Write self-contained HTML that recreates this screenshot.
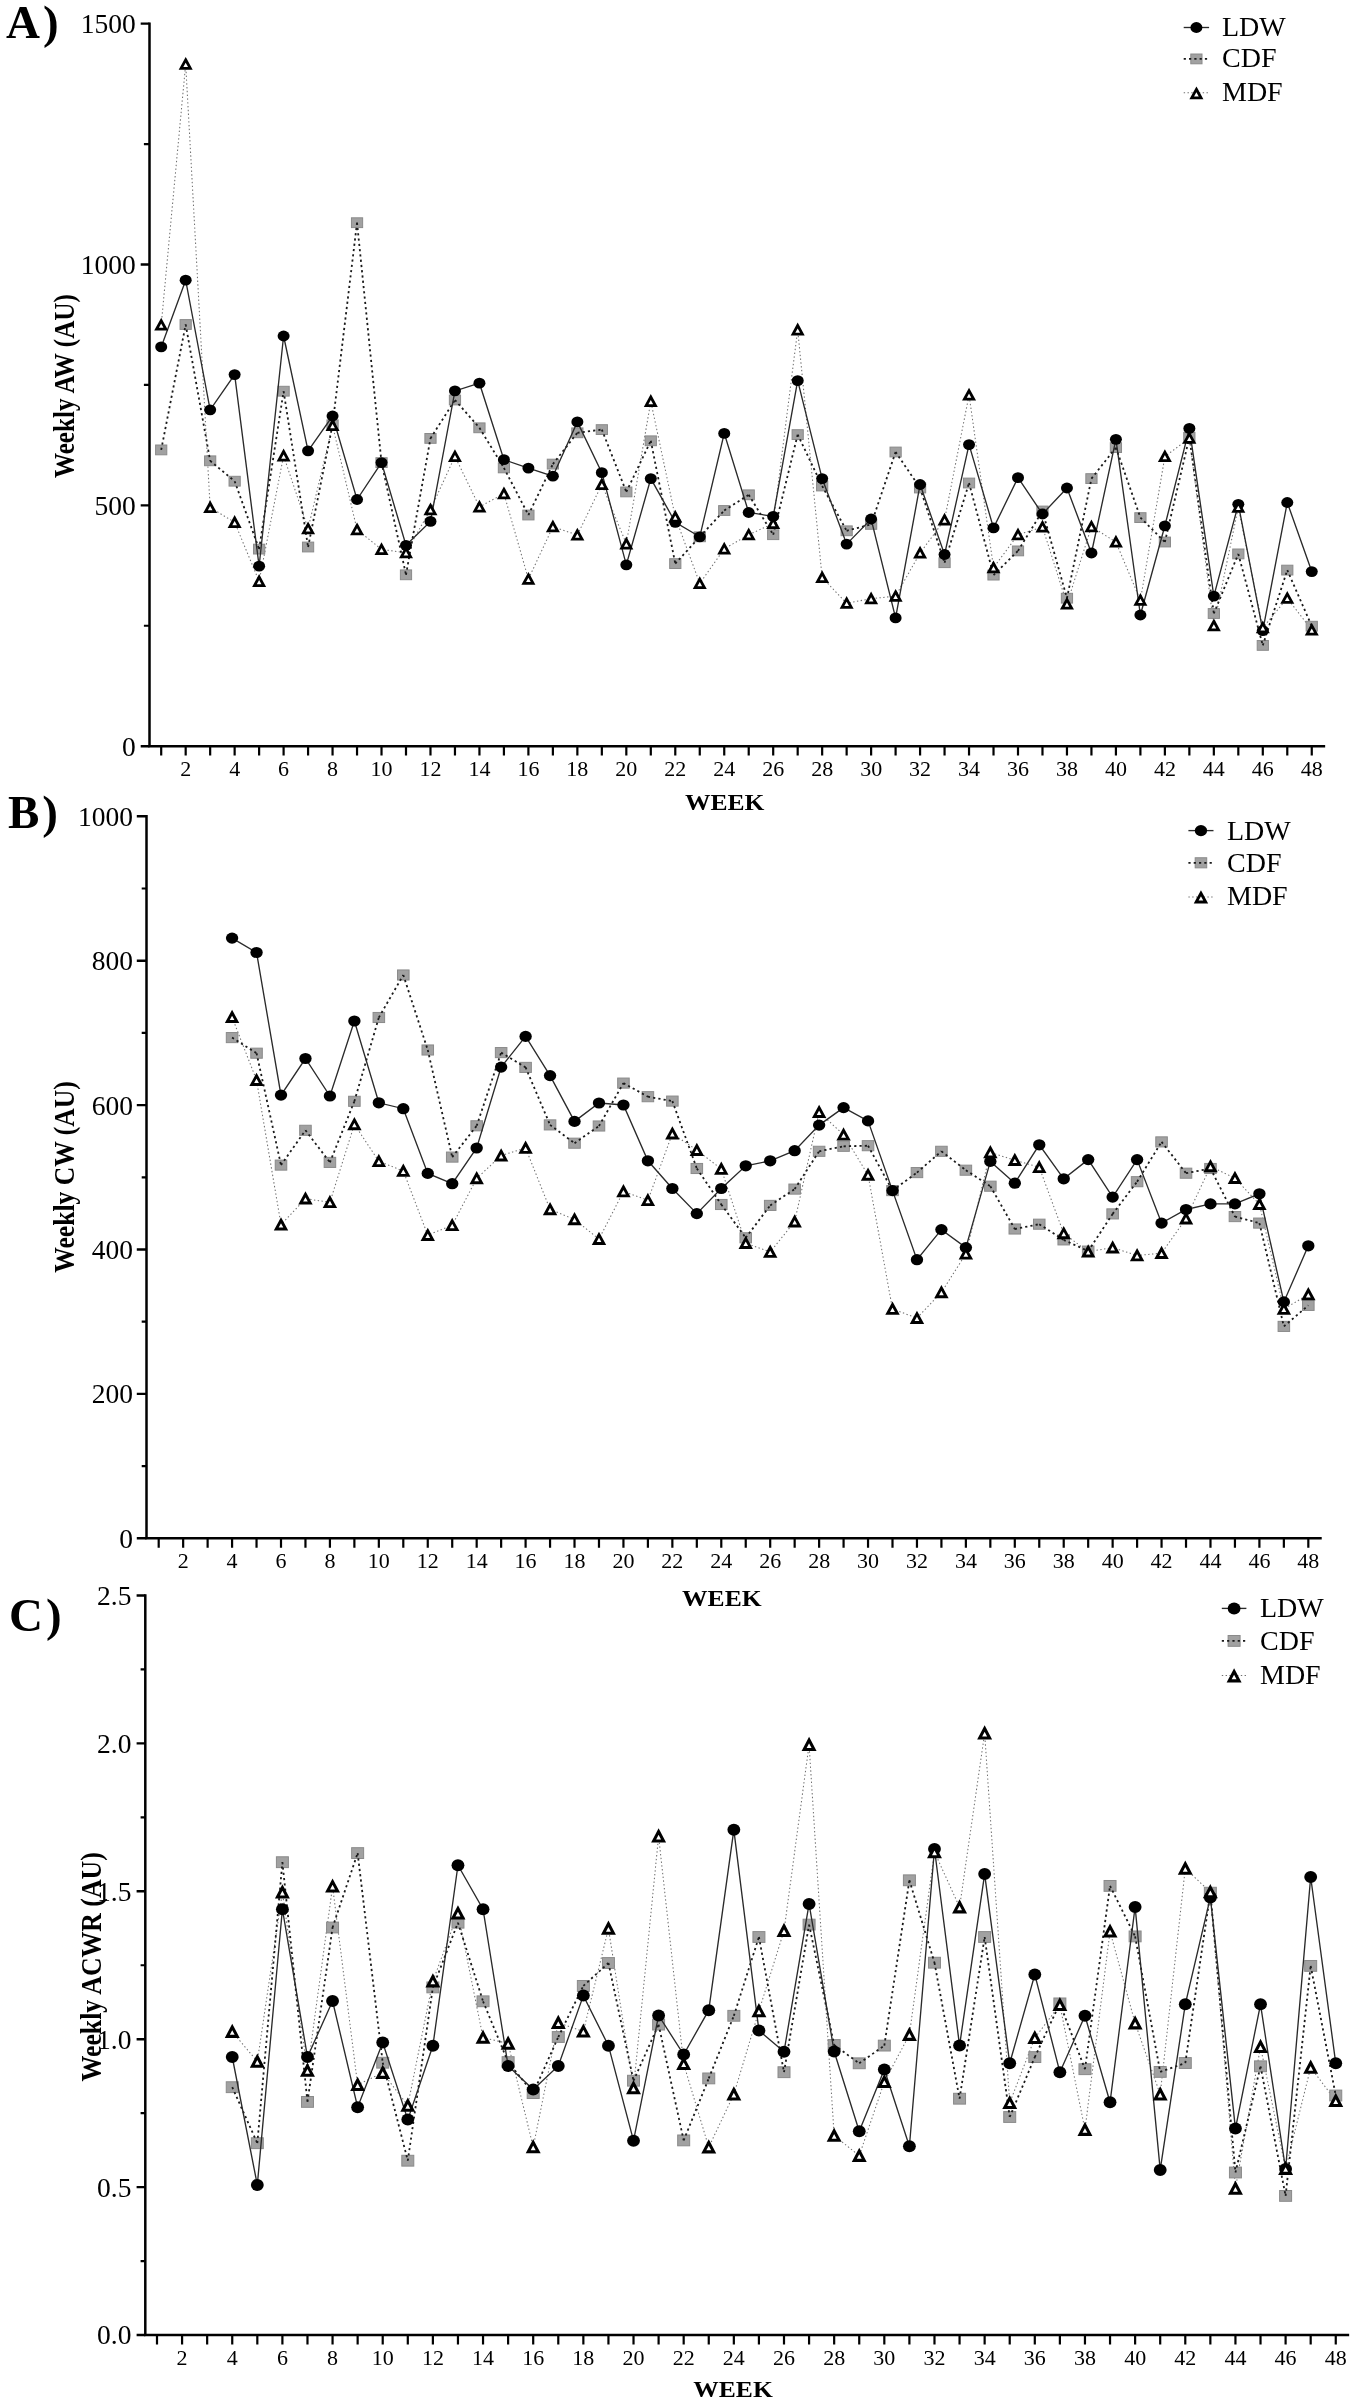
<!DOCTYPE html>
<html><head><meta charset="utf-8"><title>Weekly workload charts</title>
<style>
html,body{margin:0;padding:0;background:#fff;}
body{width:1355px;height:2404px;overflow:hidden;font-family:"Liberation Serif",serif;}
svg{display:block;will-change:transform;filter:blur(0.55px);}
</style></head><body>
<svg width="1355" height="2404" viewBox="0 0 1355 2404">
<rect width="1355" height="2404" fill="#fff"/>
<path d="M149.5 22.4V746.2H1325.16" stroke="#000" stroke-width="2.5" fill="none" stroke-linejoin="miter"/>
<path d="M140.7 746.2H149.5M140.7 505.33H149.5M140.7 264.46H149.5M140.7 23.59H149.5" stroke="#000" stroke-width="2.4" fill="none"/>
<path d="M143.9 625.77H149.5M143.9 384.9H149.5M143.9 144.03H149.5" stroke="#000" stroke-width="2.2" fill="none"/>
<text transform="translate(135.8 755.6) scale(1.0 1)" text-anchor="end" font-size="27.5" font-family="Liberation Serif, serif">0</text>
<text transform="translate(135.8 514.73) scale(1.0 1)" text-anchor="end" font-size="27.5" font-family="Liberation Serif, serif">500</text>
<text transform="translate(135.8 273.86) scale(1.0 1)" text-anchor="end" font-size="27.5" font-family="Liberation Serif, serif">1000</text>
<text transform="translate(135.8 32.99) scale(1.0 1)" text-anchor="end" font-size="27.5" font-family="Liberation Serif, serif">1500</text>
<path d="M161.2 746.2V755.6M185.68 746.2V755.6M210.16 746.2V755.6M234.64 746.2V755.6M259.12 746.2V755.6M283.6 746.2V755.6M308.08 746.2V755.6M332.56 746.2V755.6M357.04 746.2V755.6M381.52 746.2V755.6M406 746.2V755.6M430.48 746.2V755.6M454.96 746.2V755.6M479.44 746.2V755.6M503.92 746.2V755.6M528.4 746.2V755.6M552.88 746.2V755.6M577.36 746.2V755.6M601.84 746.2V755.6M626.32 746.2V755.6M650.8 746.2V755.6M675.28 746.2V755.6M699.76 746.2V755.6M724.24 746.2V755.6M748.72 746.2V755.6M773.2 746.2V755.6M797.68 746.2V755.6M822.16 746.2V755.6M846.64 746.2V755.6M871.12 746.2V755.6M895.6 746.2V755.6M920.08 746.2V755.6M944.56 746.2V755.6M969.04 746.2V755.6M993.52 746.2V755.6M1018 746.2V755.6M1042.48 746.2V755.6M1066.96 746.2V755.6M1091.44 746.2V755.6M1115.92 746.2V755.6M1140.4 746.2V755.6M1164.88 746.2V755.6M1189.36 746.2V755.6M1213.84 746.2V755.6M1238.32 746.2V755.6M1262.8 746.2V755.6M1287.28 746.2V755.6M1311.76 746.2V755.6" stroke="#000" stroke-width="2.2" fill="none"/>
<text transform="translate(185.68 775.9) scale(1.10 1)" text-anchor="middle" font-size="20" font-family="Liberation Serif, serif">2</text>
<text transform="translate(234.64 775.9) scale(1.10 1)" text-anchor="middle" font-size="20" font-family="Liberation Serif, serif">4</text>
<text transform="translate(283.6 775.9) scale(1.10 1)" text-anchor="middle" font-size="20" font-family="Liberation Serif, serif">6</text>
<text transform="translate(332.56 775.9) scale(1.10 1)" text-anchor="middle" font-size="20" font-family="Liberation Serif, serif">8</text>
<text transform="translate(381.52 775.9) scale(1.10 1)" text-anchor="middle" font-size="20" font-family="Liberation Serif, serif">10</text>
<text transform="translate(430.48 775.9) scale(1.10 1)" text-anchor="middle" font-size="20" font-family="Liberation Serif, serif">12</text>
<text transform="translate(479.44 775.9) scale(1.10 1)" text-anchor="middle" font-size="20" font-family="Liberation Serif, serif">14</text>
<text transform="translate(528.4 775.9) scale(1.10 1)" text-anchor="middle" font-size="20" font-family="Liberation Serif, serif">16</text>
<text transform="translate(577.36 775.9) scale(1.10 1)" text-anchor="middle" font-size="20" font-family="Liberation Serif, serif">18</text>
<text transform="translate(626.32 775.9) scale(1.10 1)" text-anchor="middle" font-size="20" font-family="Liberation Serif, serif">20</text>
<text transform="translate(675.28 775.9) scale(1.10 1)" text-anchor="middle" font-size="20" font-family="Liberation Serif, serif">22</text>
<text transform="translate(724.24 775.9) scale(1.10 1)" text-anchor="middle" font-size="20" font-family="Liberation Serif, serif">24</text>
<text transform="translate(773.2 775.9) scale(1.10 1)" text-anchor="middle" font-size="20" font-family="Liberation Serif, serif">26</text>
<text transform="translate(822.16 775.9) scale(1.10 1)" text-anchor="middle" font-size="20" font-family="Liberation Serif, serif">28</text>
<text transform="translate(871.12 775.9) scale(1.10 1)" text-anchor="middle" font-size="20" font-family="Liberation Serif, serif">30</text>
<text transform="translate(920.08 775.9) scale(1.10 1)" text-anchor="middle" font-size="20" font-family="Liberation Serif, serif">32</text>
<text transform="translate(969.04 775.9) scale(1.10 1)" text-anchor="middle" font-size="20" font-family="Liberation Serif, serif">34</text>
<text transform="translate(1018 775.9) scale(1.10 1)" text-anchor="middle" font-size="20" font-family="Liberation Serif, serif">36</text>
<text transform="translate(1066.96 775.9) scale(1.10 1)" text-anchor="middle" font-size="20" font-family="Liberation Serif, serif">38</text>
<text transform="translate(1115.92 775.9) scale(1.10 1)" text-anchor="middle" font-size="20" font-family="Liberation Serif, serif">40</text>
<text transform="translate(1164.88 775.9) scale(1.10 1)" text-anchor="middle" font-size="20" font-family="Liberation Serif, serif">42</text>
<text transform="translate(1213.84 775.9) scale(1.10 1)" text-anchor="middle" font-size="20" font-family="Liberation Serif, serif">44</text>
<text transform="translate(1262.8 775.9) scale(1.10 1)" text-anchor="middle" font-size="20" font-family="Liberation Serif, serif">46</text>
<text transform="translate(1311.76 775.9) scale(1.10 1)" text-anchor="middle" font-size="20" font-family="Liberation Serif, serif">48</text>
<text x="724.7" y="810.2" text-anchor="middle" font-size="24" font-weight="bold" textLength="79.5" lengthAdjust="spacingAndGlyphs" font-family="Liberation Serif, serif">WEEK</text>
<text transform="translate(74.3 386.1) rotate(-90) scale(1 1.17)" text-anchor="middle" font-size="25.15" font-weight="bold" font-family="Liberation Serif, serif">Weekly AW (AU)</text>
<text x="6" y="37.6" font-size="47" font-weight="bold" letter-spacing="3" font-family="Liberation Serif, serif">A)</text>
<polyline points="161.2,325 185.68,64.1 210.16,507.5 234.64,522.3 259.12,581.3 283.6,455.8 308.08,528.7 332.56,425.4 357.04,529.6 381.52,549.4 406,552.7 430.48,509.6 454.96,456.4 479.44,506.9 503.92,493.6 528.4,579.1 552.88,526.7 577.36,535 601.84,484.5 626.32,543.8 650.8,401.3 675.28,517 699.76,583.4 724.24,548.9 748.72,534.7 773.2,523.5 797.68,329.8 822.16,577.5 846.64,603.2 871.12,598.7 895.6,596.1 920.08,553 944.56,519.9 969.04,395 993.52,567.7 1018,534.7 1042.48,527 1066.96,604 1091.44,526.7 1115.92,542 1140.4,600.2 1164.88,456.5 1189.36,438.2 1213.84,625.6 1238.32,507.2 1262.8,627.7 1287.28,598.2 1311.76,630" stroke="#707070" stroke-width="1.05" stroke-dasharray="1.4 2.4" fill="none"/>
<g><rect x="155.6" y="445.01" width="11.2" height="9.79" fill="#a1a1a1" stroke="#8a8a8a" stroke-width="1"/><rect x="180.08" y="319.61" width="11.2" height="9.79" fill="#a1a1a1" stroke="#8a8a8a" stroke-width="1"/><rect x="204.56" y="455.91" width="11.2" height="9.79" fill="#a1a1a1" stroke="#8a8a8a" stroke-width="1"/><rect x="229.04" y="476.31" width="11.2" height="9.79" fill="#a1a1a1" stroke="#8a8a8a" stroke-width="1"/><rect x="253.52" y="544.21" width="11.2" height="9.79" fill="#a1a1a1" stroke="#8a8a8a" stroke-width="1"/><rect x="278" y="386.31" width="11.2" height="9.79" fill="#a1a1a1" stroke="#8a8a8a" stroke-width="1"/><rect x="302.48" y="542.11" width="11.2" height="9.79" fill="#a1a1a1" stroke="#8a8a8a" stroke-width="1"/><rect x="326.96" y="419.91" width="11.2" height="9.79" fill="#a1a1a1" stroke="#8a8a8a" stroke-width="1"/><rect x="351.44" y="217.81" width="11.2" height="9.79" fill="#a1a1a1" stroke="#8a8a8a" stroke-width="1"/><rect x="375.92" y="457.71" width="11.2" height="9.79" fill="#a1a1a1" stroke="#8a8a8a" stroke-width="1"/><rect x="400.4" y="569.91" width="11.2" height="9.79" fill="#a1a1a1" stroke="#8a8a8a" stroke-width="1"/><rect x="424.88" y="433.51" width="11.2" height="9.79" fill="#a1a1a1" stroke="#8a8a8a" stroke-width="1"/><rect x="449.36" y="395.11" width="11.2" height="9.79" fill="#a1a1a1" stroke="#8a8a8a" stroke-width="1"/><rect x="473.84" y="422.91" width="11.2" height="9.79" fill="#a1a1a1" stroke="#8a8a8a" stroke-width="1"/><rect x="498.32" y="463.01" width="11.2" height="9.79" fill="#a1a1a1" stroke="#8a8a8a" stroke-width="1"/><rect x="522.8" y="510.11" width="11.2" height="9.79" fill="#a1a1a1" stroke="#8a8a8a" stroke-width="1"/><rect x="547.28" y="459.21" width="11.2" height="9.79" fill="#a1a1a1" stroke="#8a8a8a" stroke-width="1"/><rect x="571.76" y="427.91" width="11.2" height="9.79" fill="#a1a1a1" stroke="#8a8a8a" stroke-width="1"/><rect x="596.24" y="424.71" width="11.2" height="9.79" fill="#a1a1a1" stroke="#8a8a8a" stroke-width="1"/><rect x="620.72" y="487.01" width="11.2" height="9.79" fill="#a1a1a1" stroke="#8a8a8a" stroke-width="1"/><rect x="645.2" y="435.91" width="11.2" height="9.79" fill="#a1a1a1" stroke="#8a8a8a" stroke-width="1"/><rect x="669.68" y="558.71" width="11.2" height="9.79" fill="#a1a1a1" stroke="#8a8a8a" stroke-width="1"/><rect x="694.16" y="531.91" width="11.2" height="9.79" fill="#a1a1a1" stroke="#8a8a8a" stroke-width="1"/><rect x="718.64" y="505.61" width="11.2" height="9.79" fill="#a1a1a1" stroke="#8a8a8a" stroke-width="1"/><rect x="743.12" y="489.91" width="11.2" height="9.79" fill="#a1a1a1" stroke="#8a8a8a" stroke-width="1"/><rect x="767.6" y="529.81" width="11.2" height="9.79" fill="#a1a1a1" stroke="#8a8a8a" stroke-width="1"/><rect x="792.08" y="429.71" width="11.2" height="9.79" fill="#a1a1a1" stroke="#8a8a8a" stroke-width="1"/><rect x="816.56" y="481.11" width="11.2" height="9.79" fill="#a1a1a1" stroke="#8a8a8a" stroke-width="1"/><rect x="841.04" y="525.91" width="11.2" height="9.79" fill="#a1a1a1" stroke="#8a8a8a" stroke-width="1"/><rect x="865.52" y="519.51" width="11.2" height="9.79" fill="#a1a1a1" stroke="#8a8a8a" stroke-width="1"/><rect x="890" y="447.11" width="11.2" height="9.79" fill="#a1a1a1" stroke="#8a8a8a" stroke-width="1"/><rect x="914.48" y="483.11" width="11.2" height="9.79" fill="#a1a1a1" stroke="#8a8a8a" stroke-width="1"/><rect x="938.96" y="557.81" width="11.2" height="9.79" fill="#a1a1a1" stroke="#8a8a8a" stroke-width="1"/><rect x="963.44" y="478.11" width="11.2" height="9.79" fill="#a1a1a1" stroke="#8a8a8a" stroke-width="1"/><rect x="987.92" y="570.21" width="11.2" height="9.79" fill="#a1a1a1" stroke="#8a8a8a" stroke-width="1"/><rect x="1012.4" y="546.01" width="11.2" height="9.79" fill="#a1a1a1" stroke="#8a8a8a" stroke-width="1"/><rect x="1036.88" y="506.11" width="11.2" height="9.79" fill="#a1a1a1" stroke="#8a8a8a" stroke-width="1"/><rect x="1061.36" y="593.31" width="11.2" height="9.79" fill="#a1a1a1" stroke="#8a8a8a" stroke-width="1"/><rect x="1085.84" y="473.71" width="11.2" height="9.79" fill="#a1a1a1" stroke="#8a8a8a" stroke-width="1"/><rect x="1110.32" y="442.71" width="11.2" height="9.79" fill="#a1a1a1" stroke="#8a8a8a" stroke-width="1"/><rect x="1134.8" y="512.71" width="11.2" height="9.79" fill="#a1a1a1" stroke="#8a8a8a" stroke-width="1"/><rect x="1159.28" y="537.11" width="11.2" height="9.79" fill="#a1a1a1" stroke="#8a8a8a" stroke-width="1"/><rect x="1183.76" y="432.41" width="11.2" height="9.79" fill="#a1a1a1" stroke="#8a8a8a" stroke-width="1"/><rect x="1208.24" y="608.61" width="11.2" height="9.79" fill="#a1a1a1" stroke="#8a8a8a" stroke-width="1"/><rect x="1232.72" y="549.01" width="11.2" height="9.79" fill="#a1a1a1" stroke="#8a8a8a" stroke-width="1"/><rect x="1257.2" y="640.51" width="11.2" height="9.79" fill="#a1a1a1" stroke="#8a8a8a" stroke-width="1"/><rect x="1281.68" y="565.21" width="11.2" height="9.79" fill="#a1a1a1" stroke="#8a8a8a" stroke-width="1"/><rect x="1306.16" y="621.31" width="11.2" height="9.79" fill="#a1a1a1" stroke="#8a8a8a" stroke-width="1"/></g>
<path d="M161.2 449.9L185.68 324.5M185.68 324.5L210.16 460.8M210.16 460.8L234.64 481.2M234.64 481.2L259.12 549.1M259.12 549.1L283.6 391.2M283.6 391.2L308.08 547M308.08 547L332.56 424.8M332.56 424.8L357.04 222.7M357.04 222.7L381.52 462.6M381.52 462.6L406 574.8M406 574.8L430.48 438.4M430.48 438.4L454.96 400M454.96 400L479.44 427.8M479.44 427.8L503.92 467.9M503.92 467.9L528.4 515M528.4 515L552.88 464.1M552.88 464.1L577.36 432.8M577.36 432.8L601.84 429.6M601.84 429.6L626.32 491.9M626.32 491.9L650.8 440.8M650.8 440.8L675.28 563.6M675.28 563.6L699.76 536.8M699.76 536.8L724.24 510.5M724.24 510.5L748.72 494.8M748.72 494.8L773.2 534.7M773.2 534.7L797.68 434.6M797.68 434.6L822.16 486M822.16 486L846.64 530.8M846.64 530.8L871.12 524.4M871.12 524.4L895.6 452M895.6 452L920.08 488M920.08 488L944.56 562.7M944.56 562.7L969.04 483M969.04 483L993.52 575.1M993.52 575.1L1018 550.9M1018 550.9L1042.48 511M1042.48 511L1066.96 598.2M1066.96 598.2L1091.44 478.6M1091.44 478.6L1115.92 447.6M1115.92 447.6L1140.4 517.6M1140.4 517.6L1164.88 542M1164.88 542L1189.36 437.3M1189.36 437.3L1213.84 613.5M1213.84 613.5L1238.32 553.9M1238.32 553.9L1262.8 645.4M1262.8 645.4L1287.28 570.1M1287.28 570.1L1311.76 626.2" stroke="#1a1a1a" stroke-width="1.8" stroke-dasharray="2.2 3.1" fill="none"/>
<polyline points="161.2,346.9 185.68,280.2 210.16,409.8 234.64,374.6 259.12,566.2 283.6,336 308.08,450.8 332.56,416 357.04,499.5 381.52,462.6 406,545.3 430.48,521.4 454.96,390.9 479.44,383.2 503.92,459.7 528.4,468.1 552.88,476.2 577.36,421.9 601.84,472.7 626.32,564.8 650.8,478.6 675.28,522.3 699.76,536.8 724.24,433.4 748.72,512.5 773.2,516.4 797.68,380.6 822.16,478.6 846.64,544.1 871.12,519 895.6,617.9 920.08,484.5 944.56,554.5 969.04,444.6 993.52,527.9 1018,477.7 1042.48,514 1066.96,488 1091.44,553 1115.92,439.3 1140.4,615 1164.88,525.8 1189.36,428.4 1213.84,596.1 1238.32,504.3 1262.8,630.6 1287.28,502.5 1311.76,571.6" stroke="#2a2a2a" stroke-width="1.35" fill="none"/>
<g><ellipse cx="161.2" cy="346.9" rx="6" ry="5.42" fill="#000"/><ellipse cx="185.68" cy="280.2" rx="6" ry="5.42" fill="#000"/><ellipse cx="210.16" cy="409.8" rx="6" ry="5.42" fill="#000"/><ellipse cx="234.64" cy="374.6" rx="6" ry="5.42" fill="#000"/><ellipse cx="259.12" cy="566.2" rx="6" ry="5.42" fill="#000"/><ellipse cx="283.6" cy="336" rx="6" ry="5.42" fill="#000"/><ellipse cx="308.08" cy="450.8" rx="6" ry="5.42" fill="#000"/><ellipse cx="332.56" cy="416" rx="6" ry="5.42" fill="#000"/><ellipse cx="357.04" cy="499.5" rx="6" ry="5.42" fill="#000"/><ellipse cx="381.52" cy="462.6" rx="6" ry="5.42" fill="#000"/><ellipse cx="406" cy="545.3" rx="6" ry="5.42" fill="#000"/><ellipse cx="430.48" cy="521.4" rx="6" ry="5.42" fill="#000"/><ellipse cx="454.96" cy="390.9" rx="6" ry="5.42" fill="#000"/><ellipse cx="479.44" cy="383.2" rx="6" ry="5.42" fill="#000"/><ellipse cx="503.92" cy="459.7" rx="6" ry="5.42" fill="#000"/><ellipse cx="528.4" cy="468.1" rx="6" ry="5.42" fill="#000"/><ellipse cx="552.88" cy="476.2" rx="6" ry="5.42" fill="#000"/><ellipse cx="577.36" cy="421.9" rx="6" ry="5.42" fill="#000"/><ellipse cx="601.84" cy="472.7" rx="6" ry="5.42" fill="#000"/><ellipse cx="626.32" cy="564.8" rx="6" ry="5.42" fill="#000"/><ellipse cx="650.8" cy="478.6" rx="6" ry="5.42" fill="#000"/><ellipse cx="675.28" cy="522.3" rx="6" ry="5.42" fill="#000"/><ellipse cx="699.76" cy="536.8" rx="6" ry="5.42" fill="#000"/><ellipse cx="724.24" cy="433.4" rx="6" ry="5.42" fill="#000"/><ellipse cx="748.72" cy="512.5" rx="6" ry="5.42" fill="#000"/><ellipse cx="773.2" cy="516.4" rx="6" ry="5.42" fill="#000"/><ellipse cx="797.68" cy="380.6" rx="6" ry="5.42" fill="#000"/><ellipse cx="822.16" cy="478.6" rx="6" ry="5.42" fill="#000"/><ellipse cx="846.64" cy="544.1" rx="6" ry="5.42" fill="#000"/><ellipse cx="871.12" cy="519" rx="6" ry="5.42" fill="#000"/><ellipse cx="895.6" cy="617.9" rx="6" ry="5.42" fill="#000"/><ellipse cx="920.08" cy="484.5" rx="6" ry="5.42" fill="#000"/><ellipse cx="944.56" cy="554.5" rx="6" ry="5.42" fill="#000"/><ellipse cx="969.04" cy="444.6" rx="6" ry="5.42" fill="#000"/><ellipse cx="993.52" cy="527.9" rx="6" ry="5.42" fill="#000"/><ellipse cx="1018" cy="477.7" rx="6" ry="5.42" fill="#000"/><ellipse cx="1042.48" cy="514" rx="6" ry="5.42" fill="#000"/><ellipse cx="1066.96" cy="488" rx="6" ry="5.42" fill="#000"/><ellipse cx="1091.44" cy="553" rx="6" ry="5.42" fill="#000"/><ellipse cx="1115.92" cy="439.3" rx="6" ry="5.42" fill="#000"/><ellipse cx="1140.4" cy="615" rx="6" ry="5.42" fill="#000"/><ellipse cx="1164.88" cy="525.8" rx="6" ry="5.42" fill="#000"/><ellipse cx="1189.36" cy="428.4" rx="6" ry="5.42" fill="#000"/><ellipse cx="1213.84" cy="596.1" rx="6" ry="5.42" fill="#000"/><ellipse cx="1238.32" cy="504.3" rx="6" ry="5.42" fill="#000"/><ellipse cx="1262.8" cy="630.6" rx="6" ry="5.42" fill="#000"/><ellipse cx="1287.28" cy="502.5" rx="6" ry="5.42" fill="#000"/><ellipse cx="1311.76" cy="571.6" rx="6" ry="5.42" fill="#000"/></g>
<g><path d="M161.2 320.68L165.86 329.22L156.54 329.22Z" fill="#fff" stroke="#000" stroke-width="2.78"/><path d="M185.68 59.78L190.34 68.32L181.02 68.32Z" fill="#fff" stroke="#000" stroke-width="2.78"/><path d="M210.16 503.18L214.82 511.72L205.5 511.72Z" fill="#fff" stroke="#000" stroke-width="2.78"/><path d="M234.64 517.98L239.3 526.52L229.98 526.52Z" fill="#fff" stroke="#000" stroke-width="2.78"/><path d="M259.12 576.98L263.78 585.52L254.46 585.52Z" fill="#fff" stroke="#000" stroke-width="2.78"/><path d="M283.6 451.48L288.26 460.02L278.94 460.02Z" fill="#fff" stroke="#000" stroke-width="2.78"/><path d="M308.08 524.38L312.74 532.92L303.42 532.92Z" fill="#fff" stroke="#000" stroke-width="2.78"/><path d="M332.56 421.08L337.22 429.62L327.9 429.62Z" fill="#fff" stroke="#000" stroke-width="2.78"/><path d="M357.04 525.28L361.7 533.82L352.38 533.82Z" fill="#fff" stroke="#000" stroke-width="2.78"/><path d="M381.52 545.08L386.18 553.62L376.86 553.62Z" fill="#fff" stroke="#000" stroke-width="2.78"/><path d="M406 548.38L410.66 556.92L401.34 556.92Z" fill="#fff" stroke="#000" stroke-width="2.78"/><path d="M430.48 505.28L435.14 513.82L425.82 513.82Z" fill="#fff" stroke="#000" stroke-width="2.78"/><path d="M454.96 452.08L459.62 460.62L450.3 460.62Z" fill="#fff" stroke="#000" stroke-width="2.78"/><path d="M479.44 502.58L484.1 511.12L474.78 511.12Z" fill="#fff" stroke="#000" stroke-width="2.78"/><path d="M503.92 489.28L508.58 497.82L499.26 497.82Z" fill="#fff" stroke="#000" stroke-width="2.78"/><path d="M528.4 574.78L533.06 583.32L523.74 583.32Z" fill="#fff" stroke="#000" stroke-width="2.78"/><path d="M552.88 522.38L557.54 530.92L548.22 530.92Z" fill="#fff" stroke="#000" stroke-width="2.78"/><path d="M577.36 530.68L582.02 539.22L572.7 539.22Z" fill="#fff" stroke="#000" stroke-width="2.78"/><path d="M601.84 480.18L606.5 488.72L597.18 488.72Z" fill="#fff" stroke="#000" stroke-width="2.78"/><path d="M626.32 539.48L630.98 548.02L621.66 548.02Z" fill="#fff" stroke="#000" stroke-width="2.78"/><path d="M650.8 396.98L655.46 405.52L646.14 405.52Z" fill="#fff" stroke="#000" stroke-width="2.78"/><path d="M675.28 512.68L679.94 521.22L670.62 521.22Z" fill="#fff" stroke="#000" stroke-width="2.78"/><path d="M699.76 579.08L704.42 587.62L695.1 587.62Z" fill="#fff" stroke="#000" stroke-width="2.78"/><path d="M724.24 544.58L728.9 553.12L719.58 553.12Z" fill="#fff" stroke="#000" stroke-width="2.78"/><path d="M748.72 530.38L753.38 538.92L744.06 538.92Z" fill="#fff" stroke="#000" stroke-width="2.78"/><path d="M773.2 519.18L777.86 527.72L768.54 527.72Z" fill="#fff" stroke="#000" stroke-width="2.78"/><path d="M797.68 325.48L802.34 334.02L793.02 334.02Z" fill="#fff" stroke="#000" stroke-width="2.78"/><path d="M822.16 573.18L826.82 581.72L817.5 581.72Z" fill="#fff" stroke="#000" stroke-width="2.78"/><path d="M846.64 598.88L851.3 607.42L841.98 607.42Z" fill="#fff" stroke="#000" stroke-width="2.78"/><path d="M871.12 594.38L875.78 602.92L866.46 602.92Z" fill="#fff" stroke="#000" stroke-width="2.78"/><path d="M895.6 591.78L900.26 600.32L890.94 600.32Z" fill="#fff" stroke="#000" stroke-width="2.78"/><path d="M920.08 548.68L924.74 557.22L915.42 557.22Z" fill="#fff" stroke="#000" stroke-width="2.78"/><path d="M944.56 515.58L949.22 524.12L939.9 524.12Z" fill="#fff" stroke="#000" stroke-width="2.78"/><path d="M969.04 390.68L973.7 399.22L964.38 399.22Z" fill="#fff" stroke="#000" stroke-width="2.78"/><path d="M993.52 563.38L998.18 571.92L988.86 571.92Z" fill="#fff" stroke="#000" stroke-width="2.78"/><path d="M1018 530.38L1022.66 538.92L1013.34 538.92Z" fill="#fff" stroke="#000" stroke-width="2.78"/><path d="M1042.48 522.68L1047.14 531.22L1037.82 531.22Z" fill="#fff" stroke="#000" stroke-width="2.78"/><path d="M1066.96 599.68L1071.62 608.22L1062.3 608.22Z" fill="#fff" stroke="#000" stroke-width="2.78"/><path d="M1091.44 522.38L1096.1 530.92L1086.78 530.92Z" fill="#fff" stroke="#000" stroke-width="2.78"/><path d="M1115.92 537.68L1120.58 546.22L1111.26 546.22Z" fill="#fff" stroke="#000" stroke-width="2.78"/><path d="M1140.4 595.88L1145.06 604.42L1135.74 604.42Z" fill="#fff" stroke="#000" stroke-width="2.78"/><path d="M1164.88 452.18L1169.54 460.72L1160.22 460.72Z" fill="#fff" stroke="#000" stroke-width="2.78"/><path d="M1189.36 433.88L1194.02 442.42L1184.7 442.42Z" fill="#fff" stroke="#000" stroke-width="2.78"/><path d="M1213.84 621.28L1218.5 629.82L1209.18 629.82Z" fill="#fff" stroke="#000" stroke-width="2.78"/><path d="M1238.32 502.88L1242.98 511.42L1233.66 511.42Z" fill="#fff" stroke="#000" stroke-width="2.78"/><path d="M1262.8 623.38L1267.46 631.92L1258.14 631.92Z" fill="#fff" stroke="#000" stroke-width="2.78"/><path d="M1287.28 593.88L1291.94 602.42L1282.62 602.42Z" fill="#fff" stroke="#000" stroke-width="2.78"/><path d="M1311.76 625.68L1316.42 634.22L1307.1 634.22Z" fill="#fff" stroke="#000" stroke-width="2.78"/></g>
<path d="M1183.7 27.5H1209.1" stroke="#2a2a2a" stroke-width="1.35" fill="none"/>
<ellipse cx="1196.4" cy="27.5" rx="6" ry="5.42" fill="#000"/>
<rect x="1190.8" y="54.01" width="11.2" height="9.79" fill="#a1a1a1" stroke="#8a8a8a" stroke-width="1"/>
<path d="M1183.7 58.9H1209.1" stroke="#1a1a1a" stroke-width="1.8" stroke-dasharray="2.2 3.1" fill="none"/>
<path d="M1183.7 92.8H1209.1" stroke="#707070" stroke-width="1.05" stroke-dasharray="1.4 2.4" fill="none"/>
<path d="M1196.4 89.28L1201.06 97.82L1191.74 97.82Z" fill="#fff" stroke="#000" stroke-width="2.78"/>
<text transform="translate(1222 36.1) scale(1.0 1)" font-size="28" font-family="Liberation Serif, serif">LDW</text>
<text transform="translate(1222 67.4) scale(1.0 1)" font-size="28" font-family="Liberation Serif, serif">CDF</text>
<text transform="translate(1222 101) scale(1.0 1)" font-size="28" font-family="Liberation Serif, serif">MDF</text>
<path d="M146.5 815.1V1538.3H1321.72" stroke="#000" stroke-width="2.5" fill="none" stroke-linejoin="miter"/>
<path d="M136.8 1538.3H146.5M136.8 1393.9H146.5M136.8 1249.5H146.5M136.8 1105.1H146.5M136.8 960.7H146.5M136.8 816.3H146.5" stroke="#000" stroke-width="2.4" fill="none"/>
<path d="M141.7 1466.1H146.5M141.7 1321.7H146.5M141.7 1177.3H146.5M141.7 1032.9H146.5M141.7 888.5H146.5" stroke="#000" stroke-width="2.2" fill="none"/>
<text transform="translate(133 1547.7) scale(1.0 1)" text-anchor="end" font-size="27.5" font-family="Liberation Serif, serif">0</text>
<text transform="translate(133 1403.3) scale(1.0 1)" text-anchor="end" font-size="27.5" font-family="Liberation Serif, serif">200</text>
<text transform="translate(133 1258.9) scale(1.0 1)" text-anchor="end" font-size="27.5" font-family="Liberation Serif, serif">400</text>
<text transform="translate(133 1114.5) scale(1.0 1)" text-anchor="end" font-size="27.5" font-family="Liberation Serif, serif">600</text>
<text transform="translate(133 970.1) scale(1.0 1)" text-anchor="end" font-size="27.5" font-family="Liberation Serif, serif">800</text>
<text transform="translate(133 825.7) scale(1.0 1)" text-anchor="end" font-size="27.5" font-family="Liberation Serif, serif">1000</text>
<path d="M158.7 1538.3V1547.7M183.16 1538.3V1547.7M207.62 1538.3V1547.7M232.08 1538.3V1547.7M256.54 1538.3V1547.7M281 1538.3V1547.7M305.46 1538.3V1547.7M329.92 1538.3V1547.7M354.38 1538.3V1547.7M378.84 1538.3V1547.7M403.3 1538.3V1547.7M427.76 1538.3V1547.7M452.22 1538.3V1547.7M476.68 1538.3V1547.7M501.14 1538.3V1547.7M525.6 1538.3V1547.7M550.06 1538.3V1547.7M574.52 1538.3V1547.7M598.98 1538.3V1547.7M623.44 1538.3V1547.7M647.9 1538.3V1547.7M672.36 1538.3V1547.7M696.82 1538.3V1547.7M721.28 1538.3V1547.7M745.74 1538.3V1547.7M770.2 1538.3V1547.7M794.66 1538.3V1547.7M819.12 1538.3V1547.7M843.58 1538.3V1547.7M868.04 1538.3V1547.7M892.5 1538.3V1547.7M916.96 1538.3V1547.7M941.42 1538.3V1547.7M965.88 1538.3V1547.7M990.34 1538.3V1547.7M1014.8 1538.3V1547.7M1039.26 1538.3V1547.7M1063.72 1538.3V1547.7M1088.18 1538.3V1547.7M1112.64 1538.3V1547.7M1137.1 1538.3V1547.7M1161.56 1538.3V1547.7M1186.02 1538.3V1547.7M1210.48 1538.3V1547.7M1234.94 1538.3V1547.7M1259.4 1538.3V1547.7M1283.86 1538.3V1547.7M1308.32 1538.3V1547.7" stroke="#000" stroke-width="2.2" fill="none"/>
<text transform="translate(183.16 1568) scale(1.10 1)" text-anchor="middle" font-size="20" font-family="Liberation Serif, serif">2</text>
<text transform="translate(232.08 1568) scale(1.10 1)" text-anchor="middle" font-size="20" font-family="Liberation Serif, serif">4</text>
<text transform="translate(281 1568) scale(1.10 1)" text-anchor="middle" font-size="20" font-family="Liberation Serif, serif">6</text>
<text transform="translate(329.92 1568) scale(1.10 1)" text-anchor="middle" font-size="20" font-family="Liberation Serif, serif">8</text>
<text transform="translate(378.84 1568) scale(1.10 1)" text-anchor="middle" font-size="20" font-family="Liberation Serif, serif">10</text>
<text transform="translate(427.76 1568) scale(1.10 1)" text-anchor="middle" font-size="20" font-family="Liberation Serif, serif">12</text>
<text transform="translate(476.68 1568) scale(1.10 1)" text-anchor="middle" font-size="20" font-family="Liberation Serif, serif">14</text>
<text transform="translate(525.6 1568) scale(1.10 1)" text-anchor="middle" font-size="20" font-family="Liberation Serif, serif">16</text>
<text transform="translate(574.52 1568) scale(1.10 1)" text-anchor="middle" font-size="20" font-family="Liberation Serif, serif">18</text>
<text transform="translate(623.44 1568) scale(1.10 1)" text-anchor="middle" font-size="20" font-family="Liberation Serif, serif">20</text>
<text transform="translate(672.36 1568) scale(1.10 1)" text-anchor="middle" font-size="20" font-family="Liberation Serif, serif">22</text>
<text transform="translate(721.28 1568) scale(1.10 1)" text-anchor="middle" font-size="20" font-family="Liberation Serif, serif">24</text>
<text transform="translate(770.2 1568) scale(1.10 1)" text-anchor="middle" font-size="20" font-family="Liberation Serif, serif">26</text>
<text transform="translate(819.12 1568) scale(1.10 1)" text-anchor="middle" font-size="20" font-family="Liberation Serif, serif">28</text>
<text transform="translate(868.04 1568) scale(1.10 1)" text-anchor="middle" font-size="20" font-family="Liberation Serif, serif">30</text>
<text transform="translate(916.96 1568) scale(1.10 1)" text-anchor="middle" font-size="20" font-family="Liberation Serif, serif">32</text>
<text transform="translate(965.88 1568) scale(1.10 1)" text-anchor="middle" font-size="20" font-family="Liberation Serif, serif">34</text>
<text transform="translate(1014.8 1568) scale(1.10 1)" text-anchor="middle" font-size="20" font-family="Liberation Serif, serif">36</text>
<text transform="translate(1063.72 1568) scale(1.10 1)" text-anchor="middle" font-size="20" font-family="Liberation Serif, serif">38</text>
<text transform="translate(1112.64 1568) scale(1.10 1)" text-anchor="middle" font-size="20" font-family="Liberation Serif, serif">40</text>
<text transform="translate(1161.56 1568) scale(1.10 1)" text-anchor="middle" font-size="20" font-family="Liberation Serif, serif">42</text>
<text transform="translate(1210.48 1568) scale(1.10 1)" text-anchor="middle" font-size="20" font-family="Liberation Serif, serif">44</text>
<text transform="translate(1259.4 1568) scale(1.10 1)" text-anchor="middle" font-size="20" font-family="Liberation Serif, serif">46</text>
<text transform="translate(1308.32 1568) scale(1.10 1)" text-anchor="middle" font-size="20" font-family="Liberation Serif, serif">48</text>
<text x="721.8" y="1605.9" text-anchor="middle" font-size="24" font-weight="bold" textLength="79.5" lengthAdjust="spacingAndGlyphs" font-family="Liberation Serif, serif">WEEK</text>
<text transform="translate(73.9 1177) rotate(-90) scale(1 1.16)" text-anchor="middle" font-size="25.6" font-weight="bold" font-family="Liberation Serif, serif">Weekly CW (AU)</text>
<text x="8" y="827.6" font-size="47" font-weight="bold" letter-spacing="3" font-family="Liberation Serif, serif">B)</text>
<polyline points="232.08,1017.2 256.54,1080.1 281,1224.7 305.46,1198.7 329.92,1202.3 354.38,1124.4 378.84,1161.3 403.3,1171 427.76,1235.1 452.22,1225.3 476.68,1178.4 501.14,1155.6 525.6,1148 550.06,1209.4 574.52,1219.4 598.98,1239.1 623.44,1191.5 647.9,1200.3 672.36,1133.6 696.82,1150.1 721.28,1169 745.74,1243.1 770.2,1252 794.66,1221.6 819.12,1112.1 843.58,1134.8 868.04,1174.9 892.5,1309 916.96,1318.1 941.42,1292.4 965.88,1253.8 990.34,1152.5 1014.8,1160.2 1039.26,1167.3 1063.72,1233.4 1088.18,1251.7 1112.64,1247.6 1137.1,1255.5 1161.56,1253.2 1186.02,1218.6 1210.48,1166.4 1234.94,1178.2 1259.4,1204.2 1283.86,1309 1308.32,1294.5" stroke="#707070" stroke-width="1.05" stroke-dasharray="1.4 2.4" fill="none"/>
<g><rect x="226.31" y="1032.55" width="11.54" height="10.09" fill="#a1a1a1" stroke="#8a8a8a" stroke-width="1"/><rect x="250.77" y="1048.15" width="11.54" height="10.09" fill="#a1a1a1" stroke="#8a8a8a" stroke-width="1"/><rect x="275.23" y="1160.05" width="11.54" height="10.09" fill="#a1a1a1" stroke="#8a8a8a" stroke-width="1"/><rect x="299.69" y="1125.25" width="11.54" height="10.09" fill="#a1a1a1" stroke="#8a8a8a" stroke-width="1"/><rect x="324.15" y="1157.35" width="11.54" height="10.09" fill="#a1a1a1" stroke="#8a8a8a" stroke-width="1"/><rect x="348.61" y="1096.25" width="11.54" height="10.09" fill="#a1a1a1" stroke="#8a8a8a" stroke-width="1"/><rect x="373.07" y="1012.45" width="11.54" height="10.09" fill="#a1a1a1" stroke="#8a8a8a" stroke-width="1"/><rect x="397.53" y="969.95" width="11.54" height="10.09" fill="#a1a1a1" stroke="#8a8a8a" stroke-width="1"/><rect x="421.99" y="1044.95" width="11.54" height="10.09" fill="#a1a1a1" stroke="#8a8a8a" stroke-width="1"/><rect x="446.45" y="1152.05" width="11.54" height="10.09" fill="#a1a1a1" stroke="#8a8a8a" stroke-width="1"/><rect x="470.91" y="1120.75" width="11.54" height="10.09" fill="#a1a1a1" stroke="#8a8a8a" stroke-width="1"/><rect x="495.37" y="1047.55" width="11.54" height="10.09" fill="#a1a1a1" stroke="#8a8a8a" stroke-width="1"/><rect x="519.83" y="1062.35" width="11.54" height="10.09" fill="#a1a1a1" stroke="#8a8a8a" stroke-width="1"/><rect x="544.29" y="1119.85" width="11.54" height="10.09" fill="#a1a1a1" stroke="#8a8a8a" stroke-width="1"/><rect x="568.75" y="1138.15" width="11.54" height="10.09" fill="#a1a1a1" stroke="#8a8a8a" stroke-width="1"/><rect x="593.21" y="1120.95" width="11.54" height="10.09" fill="#a1a1a1" stroke="#8a8a8a" stroke-width="1"/><rect x="617.67" y="1078.05" width="11.54" height="10.09" fill="#a1a1a1" stroke="#8a8a8a" stroke-width="1"/><rect x="642.13" y="1091.65" width="11.54" height="10.09" fill="#a1a1a1" stroke="#8a8a8a" stroke-width="1"/><rect x="666.59" y="1096.05" width="11.54" height="10.09" fill="#a1a1a1" stroke="#8a8a8a" stroke-width="1"/><rect x="691.05" y="1163.45" width="11.54" height="10.09" fill="#a1a1a1" stroke="#8a8a8a" stroke-width="1"/><rect x="715.51" y="1199.45" width="11.54" height="10.09" fill="#a1a1a1" stroke="#8a8a8a" stroke-width="1"/><rect x="739.97" y="1232.75" width="11.54" height="10.09" fill="#a1a1a1" stroke="#8a8a8a" stroke-width="1"/><rect x="764.43" y="1200.35" width="11.54" height="10.09" fill="#a1a1a1" stroke="#8a8a8a" stroke-width="1"/><rect x="788.89" y="1184.05" width="11.54" height="10.09" fill="#a1a1a1" stroke="#8a8a8a" stroke-width="1"/><rect x="813.35" y="1146.25" width="11.54" height="10.09" fill="#a1a1a1" stroke="#8a8a8a" stroke-width="1"/><rect x="837.81" y="1141.25" width="11.54" height="10.09" fill="#a1a1a1" stroke="#8a8a8a" stroke-width="1"/><rect x="862.27" y="1140.65" width="11.54" height="10.09" fill="#a1a1a1" stroke="#8a8a8a" stroke-width="1"/><rect x="886.73" y="1185.55" width="11.54" height="10.09" fill="#a1a1a1" stroke="#8a8a8a" stroke-width="1"/><rect x="911.19" y="1167.55" width="11.54" height="10.09" fill="#a1a1a1" stroke="#8a8a8a" stroke-width="1"/><rect x="935.65" y="1146.25" width="11.54" height="10.09" fill="#a1a1a1" stroke="#8a8a8a" stroke-width="1"/><rect x="960.11" y="1165.15" width="11.54" height="10.09" fill="#a1a1a1" stroke="#8a8a8a" stroke-width="1"/><rect x="984.57" y="1181.15" width="11.54" height="10.09" fill="#a1a1a1" stroke="#8a8a8a" stroke-width="1"/><rect x="1009.03" y="1223.95" width="11.54" height="10.09" fill="#a1a1a1" stroke="#8a8a8a" stroke-width="1"/><rect x="1033.49" y="1219.15" width="11.54" height="10.09" fill="#a1a1a1" stroke="#8a8a8a" stroke-width="1"/><rect x="1057.95" y="1234.85" width="11.54" height="10.09" fill="#a1a1a1" stroke="#8a8a8a" stroke-width="1"/><rect x="1082.41" y="1246.05" width="11.54" height="10.09" fill="#a1a1a1" stroke="#8a8a8a" stroke-width="1"/><rect x="1106.87" y="1208.85" width="11.54" height="10.09" fill="#a1a1a1" stroke="#8a8a8a" stroke-width="1"/><rect x="1131.33" y="1176.65" width="11.54" height="10.09" fill="#a1a1a1" stroke="#8a8a8a" stroke-width="1"/><rect x="1155.79" y="1136.85" width="11.54" height="10.09" fill="#a1a1a1" stroke="#8a8a8a" stroke-width="1"/><rect x="1180.25" y="1168.15" width="11.54" height="10.09" fill="#a1a1a1" stroke="#8a8a8a" stroke-width="1"/><rect x="1204.71" y="1163.45" width="11.54" height="10.09" fill="#a1a1a1" stroke="#8a8a8a" stroke-width="1"/><rect x="1229.17" y="1211.55" width="11.54" height="10.09" fill="#a1a1a1" stroke="#8a8a8a" stroke-width="1"/><rect x="1253.63" y="1218.05" width="11.54" height="10.09" fill="#a1a1a1" stroke="#8a8a8a" stroke-width="1"/><rect x="1278.09" y="1321.35" width="11.54" height="10.09" fill="#a1a1a1" stroke="#8a8a8a" stroke-width="1"/><rect x="1302.55" y="1300.35" width="11.54" height="10.09" fill="#a1a1a1" stroke="#8a8a8a" stroke-width="1"/></g>
<path d="M232.08 1037.6L256.54 1053.2M256.54 1053.2L281 1165.1M281 1165.1L305.46 1130.3M305.46 1130.3L329.92 1162.4M329.92 1162.4L354.38 1101.3M354.38 1101.3L378.84 1017.5M378.84 1017.5L403.3 975M403.3 975L427.76 1050M427.76 1050L452.22 1157.1M452.22 1157.1L476.68 1125.8M476.68 1125.8L501.14 1052.6M501.14 1052.6L525.6 1067.4M525.6 1067.4L550.06 1124.9M550.06 1124.9L574.52 1143.2M574.52 1143.2L598.98 1126M598.98 1126L623.44 1083.1M623.44 1083.1L647.9 1096.7M647.9 1096.7L672.36 1101.1M672.36 1101.1L696.82 1168.5M696.82 1168.5L721.28 1204.5M721.28 1204.5L745.74 1237.8M745.74 1237.8L770.2 1205.4M770.2 1205.4L794.66 1189.1M794.66 1189.1L819.12 1151.3M819.12 1151.3L843.58 1146.3M843.58 1146.3L868.04 1145.7M868.04 1145.7L892.5 1190.6M892.5 1190.6L916.96 1172.6M916.96 1172.6L941.42 1151.3M941.42 1151.3L965.88 1170.2M965.88 1170.2L990.34 1186.2M990.34 1186.2L1014.8 1229M1014.8 1229L1039.26 1224.2M1039.26 1224.2L1063.72 1239.9M1063.72 1239.9L1088.18 1251.1M1088.18 1251.1L1112.64 1213.9M1112.64 1213.9L1137.1 1181.7M1137.1 1181.7L1161.56 1141.9M1161.56 1141.9L1186.02 1173.2M1186.02 1173.2L1210.48 1168.5M1210.48 1168.5L1234.94 1216.6M1234.94 1216.6L1259.4 1223.1M1259.4 1223.1L1283.86 1326.4M1283.86 1326.4L1308.32 1305.4" stroke="#1a1a1a" stroke-width="1.8" stroke-dasharray="2.2 3.1" fill="none"/>
<polyline points="232.08,938.1 256.54,952.5 281,1095.1 305.46,1058.5 329.92,1096 354.38,1021 378.84,1102.8 403.3,1108.7 427.76,1173.4 452.22,1183.7 476.68,1148 501.14,1067.1 525.6,1036.4 550.06,1075.6 574.52,1121.4 598.98,1103 623.44,1105 647.9,1160.8 672.36,1188.5 696.82,1213.6 721.28,1188.5 745.74,1165.8 770.2,1160.8 794.66,1150.7 819.12,1125.1 843.58,1107.6 868.04,1120.9 892.5,1190.6 916.96,1259.7 941.42,1229.6 965.88,1247.6 990.34,1161.4 1014.8,1183.2 1039.26,1144.8 1063.72,1178.8 1088.18,1159.6 1112.64,1197.1 1137.1,1159.6 1161.56,1223.1 1186.02,1209.5 1210.48,1203.9 1234.94,1203.9 1259.4,1193.8 1283.86,1301.9 1308.32,1245.8" stroke="#2a2a2a" stroke-width="1.35" fill="none"/>
<g><ellipse cx="232.08" cy="938.1" rx="6.18" ry="5.59" fill="#000"/><ellipse cx="256.54" cy="952.5" rx="6.18" ry="5.59" fill="#000"/><ellipse cx="281" cy="1095.1" rx="6.18" ry="5.59" fill="#000"/><ellipse cx="305.46" cy="1058.5" rx="6.18" ry="5.59" fill="#000"/><ellipse cx="329.92" cy="1096" rx="6.18" ry="5.59" fill="#000"/><ellipse cx="354.38" cy="1021" rx="6.18" ry="5.59" fill="#000"/><ellipse cx="378.84" cy="1102.8" rx="6.18" ry="5.59" fill="#000"/><ellipse cx="403.3" cy="1108.7" rx="6.18" ry="5.59" fill="#000"/><ellipse cx="427.76" cy="1173.4" rx="6.18" ry="5.59" fill="#000"/><ellipse cx="452.22" cy="1183.7" rx="6.18" ry="5.59" fill="#000"/><ellipse cx="476.68" cy="1148" rx="6.18" ry="5.59" fill="#000"/><ellipse cx="501.14" cy="1067.1" rx="6.18" ry="5.59" fill="#000"/><ellipse cx="525.6" cy="1036.4" rx="6.18" ry="5.59" fill="#000"/><ellipse cx="550.06" cy="1075.6" rx="6.18" ry="5.59" fill="#000"/><ellipse cx="574.52" cy="1121.4" rx="6.18" ry="5.59" fill="#000"/><ellipse cx="598.98" cy="1103" rx="6.18" ry="5.59" fill="#000"/><ellipse cx="623.44" cy="1105" rx="6.18" ry="5.59" fill="#000"/><ellipse cx="647.9" cy="1160.8" rx="6.18" ry="5.59" fill="#000"/><ellipse cx="672.36" cy="1188.5" rx="6.18" ry="5.59" fill="#000"/><ellipse cx="696.82" cy="1213.6" rx="6.18" ry="5.59" fill="#000"/><ellipse cx="721.28" cy="1188.5" rx="6.18" ry="5.59" fill="#000"/><ellipse cx="745.74" cy="1165.8" rx="6.18" ry="5.59" fill="#000"/><ellipse cx="770.2" cy="1160.8" rx="6.18" ry="5.59" fill="#000"/><ellipse cx="794.66" cy="1150.7" rx="6.18" ry="5.59" fill="#000"/><ellipse cx="819.12" cy="1125.1" rx="6.18" ry="5.59" fill="#000"/><ellipse cx="843.58" cy="1107.6" rx="6.18" ry="5.59" fill="#000"/><ellipse cx="868.04" cy="1120.9" rx="6.18" ry="5.59" fill="#000"/><ellipse cx="892.5" cy="1190.6" rx="6.18" ry="5.59" fill="#000"/><ellipse cx="916.96" cy="1259.7" rx="6.18" ry="5.59" fill="#000"/><ellipse cx="941.42" cy="1229.6" rx="6.18" ry="5.59" fill="#000"/><ellipse cx="965.88" cy="1247.6" rx="6.18" ry="5.59" fill="#000"/><ellipse cx="990.34" cy="1161.4" rx="6.18" ry="5.59" fill="#000"/><ellipse cx="1014.8" cy="1183.2" rx="6.18" ry="5.59" fill="#000"/><ellipse cx="1039.26" cy="1144.8" rx="6.18" ry="5.59" fill="#000"/><ellipse cx="1063.72" cy="1178.8" rx="6.18" ry="5.59" fill="#000"/><ellipse cx="1088.18" cy="1159.6" rx="6.18" ry="5.59" fill="#000"/><ellipse cx="1112.64" cy="1197.1" rx="6.18" ry="5.59" fill="#000"/><ellipse cx="1137.1" cy="1159.6" rx="6.18" ry="5.59" fill="#000"/><ellipse cx="1161.56" cy="1223.1" rx="6.18" ry="5.59" fill="#000"/><ellipse cx="1186.02" cy="1209.5" rx="6.18" ry="5.59" fill="#000"/><ellipse cx="1210.48" cy="1203.9" rx="6.18" ry="5.59" fill="#000"/><ellipse cx="1234.94" cy="1203.9" rx="6.18" ry="5.59" fill="#000"/><ellipse cx="1259.4" cy="1193.8" rx="6.18" ry="5.59" fill="#000"/><ellipse cx="1283.86" cy="1301.9" rx="6.18" ry="5.59" fill="#000"/><ellipse cx="1308.32" cy="1245.8" rx="6.18" ry="5.59" fill="#000"/></g>
<g><path d="M232.08 1012.74L236.88 1021.55L227.28 1021.55Z" fill="#fff" stroke="#000" stroke-width="2.86"/><path d="M256.54 1075.64L261.34 1084.45L251.74 1084.45Z" fill="#fff" stroke="#000" stroke-width="2.86"/><path d="M281 1220.24L285.8 1229.05L276.2 1229.05Z" fill="#fff" stroke="#000" stroke-width="2.86"/><path d="M305.46 1194.24L310.26 1203.05L300.66 1203.05Z" fill="#fff" stroke="#000" stroke-width="2.86"/><path d="M329.92 1197.84L334.72 1206.65L325.12 1206.65Z" fill="#fff" stroke="#000" stroke-width="2.86"/><path d="M354.38 1119.94L359.18 1128.75L349.58 1128.75Z" fill="#fff" stroke="#000" stroke-width="2.86"/><path d="M378.84 1156.84L383.64 1165.65L374.04 1165.65Z" fill="#fff" stroke="#000" stroke-width="2.86"/><path d="M403.3 1166.54L408.1 1175.35L398.5 1175.35Z" fill="#fff" stroke="#000" stroke-width="2.86"/><path d="M427.76 1230.64L432.56 1239.45L422.96 1239.45Z" fill="#fff" stroke="#000" stroke-width="2.86"/><path d="M452.22 1220.84L457.02 1229.65L447.42 1229.65Z" fill="#fff" stroke="#000" stroke-width="2.86"/><path d="M476.68 1173.94L481.48 1182.75L471.88 1182.75Z" fill="#fff" stroke="#000" stroke-width="2.86"/><path d="M501.14 1151.14L505.94 1159.95L496.34 1159.95Z" fill="#fff" stroke="#000" stroke-width="2.86"/><path d="M525.6 1143.54L530.4 1152.35L520.8 1152.35Z" fill="#fff" stroke="#000" stroke-width="2.86"/><path d="M550.06 1204.94L554.86 1213.75L545.26 1213.75Z" fill="#fff" stroke="#000" stroke-width="2.86"/><path d="M574.52 1214.94L579.32 1223.75L569.72 1223.75Z" fill="#fff" stroke="#000" stroke-width="2.86"/><path d="M598.98 1234.64L603.78 1243.45L594.18 1243.45Z" fill="#fff" stroke="#000" stroke-width="2.86"/><path d="M623.44 1187.04L628.24 1195.85L618.64 1195.85Z" fill="#fff" stroke="#000" stroke-width="2.86"/><path d="M647.9 1195.84L652.7 1204.65L643.1 1204.65Z" fill="#fff" stroke="#000" stroke-width="2.86"/><path d="M672.36 1129.14L677.16 1137.95L667.56 1137.95Z" fill="#fff" stroke="#000" stroke-width="2.86"/><path d="M696.82 1145.64L701.62 1154.45L692.02 1154.45Z" fill="#fff" stroke="#000" stroke-width="2.86"/><path d="M721.28 1164.54L726.08 1173.35L716.48 1173.35Z" fill="#fff" stroke="#000" stroke-width="2.86"/><path d="M745.74 1238.64L750.54 1247.45L740.94 1247.45Z" fill="#fff" stroke="#000" stroke-width="2.86"/><path d="M770.2 1247.54L775 1256.35L765.4 1256.35Z" fill="#fff" stroke="#000" stroke-width="2.86"/><path d="M794.66 1217.14L799.46 1225.95L789.86 1225.95Z" fill="#fff" stroke="#000" stroke-width="2.86"/><path d="M819.12 1107.64L823.92 1116.45L814.32 1116.45Z" fill="#fff" stroke="#000" stroke-width="2.86"/><path d="M843.58 1130.34L848.38 1139.15L838.78 1139.15Z" fill="#fff" stroke="#000" stroke-width="2.86"/><path d="M868.04 1170.44L872.84 1179.25L863.24 1179.25Z" fill="#fff" stroke="#000" stroke-width="2.86"/><path d="M892.5 1304.54L897.3 1313.35L887.7 1313.35Z" fill="#fff" stroke="#000" stroke-width="2.86"/><path d="M916.96 1313.64L921.76 1322.45L912.16 1322.45Z" fill="#fff" stroke="#000" stroke-width="2.86"/><path d="M941.42 1287.94L946.22 1296.75L936.62 1296.75Z" fill="#fff" stroke="#000" stroke-width="2.86"/><path d="M965.88 1249.34L970.68 1258.15L961.08 1258.15Z" fill="#fff" stroke="#000" stroke-width="2.86"/><path d="M990.34 1148.04L995.14 1156.85L985.54 1156.85Z" fill="#fff" stroke="#000" stroke-width="2.86"/><path d="M1014.8 1155.74L1019.6 1164.55L1010 1164.55Z" fill="#fff" stroke="#000" stroke-width="2.86"/><path d="M1039.26 1162.84L1044.06 1171.65L1034.46 1171.65Z" fill="#fff" stroke="#000" stroke-width="2.86"/><path d="M1063.72 1228.94L1068.52 1237.75L1058.92 1237.75Z" fill="#fff" stroke="#000" stroke-width="2.86"/><path d="M1088.18 1247.24L1092.98 1256.05L1083.38 1256.05Z" fill="#fff" stroke="#000" stroke-width="2.86"/><path d="M1112.64 1243.14L1117.44 1251.95L1107.84 1251.95Z" fill="#fff" stroke="#000" stroke-width="2.86"/><path d="M1137.1 1251.04L1141.9 1259.85L1132.3 1259.85Z" fill="#fff" stroke="#000" stroke-width="2.86"/><path d="M1161.56 1248.74L1166.36 1257.55L1156.76 1257.55Z" fill="#fff" stroke="#000" stroke-width="2.86"/><path d="M1186.02 1214.14L1190.82 1222.95L1181.22 1222.95Z" fill="#fff" stroke="#000" stroke-width="2.86"/><path d="M1210.48 1161.94L1215.28 1170.75L1205.68 1170.75Z" fill="#fff" stroke="#000" stroke-width="2.86"/><path d="M1234.94 1173.74L1239.74 1182.55L1230.14 1182.55Z" fill="#fff" stroke="#000" stroke-width="2.86"/><path d="M1259.4 1199.74L1264.2 1208.55L1254.6 1208.55Z" fill="#fff" stroke="#000" stroke-width="2.86"/><path d="M1283.86 1304.54L1288.66 1313.35L1279.06 1313.35Z" fill="#fff" stroke="#000" stroke-width="2.86"/><path d="M1308.32 1290.04L1313.12 1298.85L1303.52 1298.85Z" fill="#fff" stroke="#000" stroke-width="2.86"/></g>
<path d="M1188.4 830.6H1213.5" stroke="#2a2a2a" stroke-width="1.35" fill="none"/>
<ellipse cx="1200.95" cy="830.6" rx="6.18" ry="5.59" fill="#000"/>
<rect x="1195.18" y="857.75" width="11.54" height="10.09" fill="#a1a1a1" stroke="#8a8a8a" stroke-width="1"/>
<path d="M1188.4 862.8H1213.5" stroke="#1a1a1a" stroke-width="1.8" stroke-dasharray="2.2 3.1" fill="none"/>
<path d="M1188.4 896.9H1213.5" stroke="#707070" stroke-width="1.05" stroke-dasharray="1.4 2.4" fill="none"/>
<path d="M1200.95 893.24L1205.75 902.05L1196.15 902.05Z" fill="#fff" stroke="#000" stroke-width="2.86"/>
<text transform="translate(1227 839.9) scale(1.0 1)" font-size="28" font-family="Liberation Serif, serif">LDW</text>
<text transform="translate(1227 871.9) scale(1.0 1)" font-size="28" font-family="Liberation Serif, serif">CDF</text>
<text transform="translate(1227 905.2) scale(1.0 1)" font-size="28" font-family="Liberation Serif, serif">MDF</text>
<path d="M145.3 1594.3V2335H1349.16" stroke="#000" stroke-width="2.5" fill="none" stroke-linejoin="miter"/>
<path d="M136.6 2335H145.3M136.6 2187.1H145.3M136.6 2039.2H145.3M136.6 1891.3H145.3M136.6 1743.4H145.3M136.6 1595.5H145.3" stroke="#000" stroke-width="2.4" fill="none"/>
<path d="M140.6 2261.05H145.3M140.6 2113.15H145.3M140.6 1965.25H145.3M140.6 1817.35H145.3M140.6 1669.45H145.3" stroke="#000" stroke-width="2.2" fill="none"/>
<text transform="translate(131.4 2344.4) scale(1.0 1)" text-anchor="end" font-size="27.5" font-family="Liberation Serif, serif">0.0</text>
<text transform="translate(131.4 2196.5) scale(1.0 1)" text-anchor="end" font-size="27.5" font-family="Liberation Serif, serif">0.5</text>
<text transform="translate(131.4 2048.6) scale(1.0 1)" text-anchor="end" font-size="27.5" font-family="Liberation Serif, serif">1.0</text>
<text transform="translate(131.4 1900.7) scale(1.0 1)" text-anchor="end" font-size="27.5" font-family="Liberation Serif, serif">1.5</text>
<text transform="translate(131.4 1752.8) scale(1.0 1)" text-anchor="end" font-size="27.5" font-family="Liberation Serif, serif">2.0</text>
<text transform="translate(131.4 1604.9) scale(1.0 1)" text-anchor="end" font-size="27.5" font-family="Liberation Serif, serif">2.5</text>
<path d="M157 2335V2344.4M182.08 2335V2344.4M207.16 2335V2344.4M232.24 2335V2344.4M257.32 2335V2344.4M282.4 2335V2344.4M307.48 2335V2344.4M332.56 2335V2344.4M357.64 2335V2344.4M382.72 2335V2344.4M407.8 2335V2344.4M432.88 2335V2344.4M457.96 2335V2344.4M483.04 2335V2344.4M508.12 2335V2344.4M533.2 2335V2344.4M558.28 2335V2344.4M583.36 2335V2344.4M608.44 2335V2344.4M633.52 2335V2344.4M658.6 2335V2344.4M683.68 2335V2344.4M708.76 2335V2344.4M733.84 2335V2344.4M758.92 2335V2344.4M784 2335V2344.4M809.08 2335V2344.4M834.16 2335V2344.4M859.24 2335V2344.4M884.32 2335V2344.4M909.4 2335V2344.4M934.48 2335V2344.4M959.56 2335V2344.4M984.64 2335V2344.4M1009.72 2335V2344.4M1034.8 2335V2344.4M1059.88 2335V2344.4M1084.96 2335V2344.4M1110.04 2335V2344.4M1135.12 2335V2344.4M1160.2 2335V2344.4M1185.28 2335V2344.4M1210.36 2335V2344.4M1235.44 2335V2344.4M1260.52 2335V2344.4M1285.6 2335V2344.4M1310.68 2335V2344.4M1335.76 2335V2344.4" stroke="#000" stroke-width="2.2" fill="none"/>
<text transform="translate(182.08 2364.7) scale(1.10 1)" text-anchor="middle" font-size="20" font-family="Liberation Serif, serif">2</text>
<text transform="translate(232.24 2364.7) scale(1.10 1)" text-anchor="middle" font-size="20" font-family="Liberation Serif, serif">4</text>
<text transform="translate(282.4 2364.7) scale(1.10 1)" text-anchor="middle" font-size="20" font-family="Liberation Serif, serif">6</text>
<text transform="translate(332.56 2364.7) scale(1.10 1)" text-anchor="middle" font-size="20" font-family="Liberation Serif, serif">8</text>
<text transform="translate(382.72 2364.7) scale(1.10 1)" text-anchor="middle" font-size="20" font-family="Liberation Serif, serif">10</text>
<text transform="translate(432.88 2364.7) scale(1.10 1)" text-anchor="middle" font-size="20" font-family="Liberation Serif, serif">12</text>
<text transform="translate(483.04 2364.7) scale(1.10 1)" text-anchor="middle" font-size="20" font-family="Liberation Serif, serif">14</text>
<text transform="translate(533.2 2364.7) scale(1.10 1)" text-anchor="middle" font-size="20" font-family="Liberation Serif, serif">16</text>
<text transform="translate(583.36 2364.7) scale(1.10 1)" text-anchor="middle" font-size="20" font-family="Liberation Serif, serif">18</text>
<text transform="translate(633.52 2364.7) scale(1.10 1)" text-anchor="middle" font-size="20" font-family="Liberation Serif, serif">20</text>
<text transform="translate(683.68 2364.7) scale(1.10 1)" text-anchor="middle" font-size="20" font-family="Liberation Serif, serif">22</text>
<text transform="translate(733.84 2364.7) scale(1.10 1)" text-anchor="middle" font-size="20" font-family="Liberation Serif, serif">24</text>
<text transform="translate(784 2364.7) scale(1.10 1)" text-anchor="middle" font-size="20" font-family="Liberation Serif, serif">26</text>
<text transform="translate(834.16 2364.7) scale(1.10 1)" text-anchor="middle" font-size="20" font-family="Liberation Serif, serif">28</text>
<text transform="translate(884.32 2364.7) scale(1.10 1)" text-anchor="middle" font-size="20" font-family="Liberation Serif, serif">30</text>
<text transform="translate(934.48 2364.7) scale(1.10 1)" text-anchor="middle" font-size="20" font-family="Liberation Serif, serif">32</text>
<text transform="translate(984.64 2364.7) scale(1.10 1)" text-anchor="middle" font-size="20" font-family="Liberation Serif, serif">34</text>
<text transform="translate(1034.8 2364.7) scale(1.10 1)" text-anchor="middle" font-size="20" font-family="Liberation Serif, serif">36</text>
<text transform="translate(1084.96 2364.7) scale(1.10 1)" text-anchor="middle" font-size="20" font-family="Liberation Serif, serif">38</text>
<text transform="translate(1135.12 2364.7) scale(1.10 1)" text-anchor="middle" font-size="20" font-family="Liberation Serif, serif">40</text>
<text transform="translate(1185.28 2364.7) scale(1.10 1)" text-anchor="middle" font-size="20" font-family="Liberation Serif, serif">42</text>
<text transform="translate(1235.44 2364.7) scale(1.10 1)" text-anchor="middle" font-size="20" font-family="Liberation Serif, serif">44</text>
<text transform="translate(1285.6 2364.7) scale(1.10 1)" text-anchor="middle" font-size="20" font-family="Liberation Serif, serif">46</text>
<text transform="translate(1335.76 2364.7) scale(1.10 1)" text-anchor="middle" font-size="20" font-family="Liberation Serif, serif">48</text>
<text x="733" y="2396.9" text-anchor="middle" font-size="24" font-weight="bold" textLength="79.5" lengthAdjust="spacingAndGlyphs" font-family="Liberation Serif, serif">WEEK</text>
<text transform="translate(100.8 1966.8) rotate(-90) scale(1 1.17)" text-anchor="middle" font-size="25.8" font-weight="bold" font-family="Liberation Serif, serif">Weekly ACWR (AU)</text>
<text x="9" y="1631.2" font-size="47" font-weight="bold" letter-spacing="3" font-family="Liberation Serif, serif">C)</text>
<polyline points="232.24,2031.7 257.32,2061.5 282.4,1892.3 307.48,2070.6 332.56,1886.4 357.64,2084.8 382.72,2072.7 407.8,2105.5 432.88,1981.2 457.96,1913.3 483.04,2037.6 508.12,2043.5 533.2,2147.1 558.28,2022.8 583.36,2031.4 608.44,1928.5 633.52,2088.1 658.6,1836.3 683.68,2063.9 708.76,2147.2 733.84,2094.3 758.92,2011.1 784,1930.8 809.08,1744.8 834.16,2135.6 859.24,2155.7 884.32,2081.9 909.4,2034.7 934.48,1852 959.56,1907.2 984.64,1733.3 1009.72,2102.9 1034.8,2037.9 1059.88,2004.9 1084.96,2129.7 1110.04,1931.4 1135.12,2023.2 1160.2,2094.3 1185.28,1868.5 1210.36,1892.1 1235.44,2188.5 1260.52,2046.8 1285.6,2168.7 1310.68,2067.5 1335.76,2100.8" stroke="#707070" stroke-width="1.05" stroke-dasharray="1.4 2.4" fill="none"/>
<g><rect x="226.25" y="2081.79" width="11.98" height="10.82" fill="#a1a1a1" stroke="#8a8a8a" stroke-width="1"/><rect x="251.33" y="2137.79" width="11.98" height="10.82" fill="#a1a1a1" stroke="#8a8a8a" stroke-width="1"/><rect x="276.41" y="1856.79" width="11.98" height="10.82" fill="#a1a1a1" stroke="#8a8a8a" stroke-width="1"/><rect x="301.49" y="2096.49" width="11.98" height="10.82" fill="#a1a1a1" stroke="#8a8a8a" stroke-width="1"/><rect x="326.57" y="1922.09" width="11.98" height="10.82" fill="#a1a1a1" stroke="#8a8a8a" stroke-width="1"/><rect x="351.65" y="1847.69" width="11.98" height="10.82" fill="#a1a1a1" stroke="#8a8a8a" stroke-width="1"/><rect x="376.73" y="2057.29" width="11.98" height="10.82" fill="#a1a1a1" stroke="#8a8a8a" stroke-width="1"/><rect x="401.81" y="2155.29" width="11.98" height="10.82" fill="#a1a1a1" stroke="#8a8a8a" stroke-width="1"/><rect x="426.89" y="1981.99" width="11.98" height="10.82" fill="#a1a1a1" stroke="#8a8a8a" stroke-width="1"/><rect x="451.97" y="1917.29" width="11.98" height="10.82" fill="#a1a1a1" stroke="#8a8a8a" stroke-width="1"/><rect x="477.05" y="1995.89" width="11.98" height="10.82" fill="#a1a1a1" stroke="#8a8a8a" stroke-width="1"/><rect x="502.13" y="2056.69" width="11.98" height="10.82" fill="#a1a1a1" stroke="#8a8a8a" stroke-width="1"/><rect x="527.21" y="2087.69" width="11.98" height="10.82" fill="#a1a1a1" stroke="#8a8a8a" stroke-width="1"/><rect x="552.29" y="2031.59" width="11.98" height="10.82" fill="#a1a1a1" stroke="#8a8a8a" stroke-width="1"/><rect x="577.37" y="1980.49" width="11.98" height="10.82" fill="#a1a1a1" stroke="#8a8a8a" stroke-width="1"/><rect x="602.45" y="1957.59" width="11.98" height="10.82" fill="#a1a1a1" stroke="#8a8a8a" stroke-width="1"/><rect x="627.53" y="2075.29" width="11.98" height="10.82" fill="#a1a1a1" stroke="#8a8a8a" stroke-width="1"/><rect x="652.61" y="2019.19" width="11.98" height="10.82" fill="#a1a1a1" stroke="#8a8a8a" stroke-width="1"/><rect x="677.69" y="2134.99" width="11.98" height="10.82" fill="#a1a1a1" stroke="#8a8a8a" stroke-width="1"/><rect x="702.77" y="2072.99" width="11.98" height="10.82" fill="#a1a1a1" stroke="#8a8a8a" stroke-width="1"/><rect x="727.85" y="2010.39" width="11.98" height="10.82" fill="#a1a1a1" stroke="#8a8a8a" stroke-width="1"/><rect x="752.93" y="1931.59" width="11.98" height="10.82" fill="#a1a1a1" stroke="#8a8a8a" stroke-width="1"/><rect x="778.01" y="2066.79" width="11.98" height="10.82" fill="#a1a1a1" stroke="#8a8a8a" stroke-width="1"/><rect x="803.09" y="1919.19" width="11.98" height="10.82" fill="#a1a1a1" stroke="#8a8a8a" stroke-width="1"/><rect x="828.17" y="2039.59" width="11.98" height="10.82" fill="#a1a1a1" stroke="#8a8a8a" stroke-width="1"/><rect x="853.25" y="2057.89" width="11.98" height="10.82" fill="#a1a1a1" stroke="#8a8a8a" stroke-width="1"/><rect x="878.33" y="2040.19" width="11.98" height="10.82" fill="#a1a1a1" stroke="#8a8a8a" stroke-width="1"/><rect x="903.41" y="1874.89" width="11.98" height="10.82" fill="#a1a1a1" stroke="#8a8a8a" stroke-width="1"/><rect x="928.49" y="1957.29" width="11.98" height="10.82" fill="#a1a1a1" stroke="#8a8a8a" stroke-width="1"/><rect x="953.57" y="2093.29" width="11.98" height="10.82" fill="#a1a1a1" stroke="#8a8a8a" stroke-width="1"/><rect x="978.65" y="1931.59" width="11.98" height="10.82" fill="#a1a1a1" stroke="#8a8a8a" stroke-width="1"/><rect x="1003.73" y="2111.59" width="11.98" height="10.82" fill="#a1a1a1" stroke="#8a8a8a" stroke-width="1"/><rect x="1028.81" y="2051.69" width="11.98" height="10.82" fill="#a1a1a1" stroke="#8a8a8a" stroke-width="1"/><rect x="1053.89" y="1997.99" width="11.98" height="10.82" fill="#a1a1a1" stroke="#8a8a8a" stroke-width="1"/><rect x="1078.97" y="2063.79" width="11.98" height="10.82" fill="#a1a1a1" stroke="#8a8a8a" stroke-width="1"/><rect x="1104.05" y="1880.49" width="11.98" height="10.82" fill="#a1a1a1" stroke="#8a8a8a" stroke-width="1"/><rect x="1129.13" y="1930.99" width="11.98" height="10.82" fill="#a1a1a1" stroke="#8a8a8a" stroke-width="1"/><rect x="1154.21" y="2066.49" width="11.98" height="10.82" fill="#a1a1a1" stroke="#8a8a8a" stroke-width="1"/><rect x="1179.29" y="2057.59" width="11.98" height="10.82" fill="#a1a1a1" stroke="#8a8a8a" stroke-width="1"/><rect x="1204.37" y="1887.29" width="11.98" height="10.82" fill="#a1a1a1" stroke="#8a8a8a" stroke-width="1"/><rect x="1229.45" y="2167.09" width="11.98" height="10.82" fill="#a1a1a1" stroke="#8a8a8a" stroke-width="1"/><rect x="1254.53" y="2060.89" width="11.98" height="10.82" fill="#a1a1a1" stroke="#8a8a8a" stroke-width="1"/><rect x="1279.61" y="2190.49" width="11.98" height="10.82" fill="#a1a1a1" stroke="#8a8a8a" stroke-width="1"/><rect x="1304.69" y="1960.49" width="11.98" height="10.82" fill="#a1a1a1" stroke="#8a8a8a" stroke-width="1"/><rect x="1329.77" y="2090.09" width="11.98" height="10.82" fill="#a1a1a1" stroke="#8a8a8a" stroke-width="1"/></g>
<path d="M232.24 2087.2L257.32 2143.2M257.32 2143.2L282.4 1862.2M282.4 1862.2L307.48 2101.9M307.48 2101.9L332.56 1927.5M332.56 1927.5L357.64 1853.1M357.64 1853.1L382.72 2062.7M382.72 2062.7L407.8 2160.7M407.8 2160.7L432.88 1987.4M432.88 1987.4L457.96 1922.7M457.96 1922.7L483.04 2001.3M483.04 2001.3L508.12 2062.1M508.12 2062.1L533.2 2093.1M533.2 2093.1L558.28 2037M558.28 2037L583.36 1985.9M583.36 1985.9L608.44 1963M608.44 1963L633.52 2080.7M633.52 2080.7L658.6 2024.6M658.6 2024.6L683.68 2140.4M683.68 2140.4L708.76 2078.4M708.76 2078.4L733.84 2015.8M733.84 2015.8L758.92 1937M758.92 1937L784 2072.2M784 2072.2L809.08 1924.6M809.08 1924.6L834.16 2045M834.16 2045L859.24 2063.3M859.24 2063.3L884.32 2045.6M884.32 2045.6L909.4 1880.3M909.4 1880.3L934.48 1962.7M934.48 1962.7L959.56 2098.7M959.56 2098.7L984.64 1937M984.64 1937L1009.72 2117M1009.72 2117L1034.8 2057.1M1034.8 2057.1L1059.88 2003.4M1059.88 2003.4L1084.96 2069.2M1084.96 2069.2L1110.04 1885.9M1110.04 1885.9L1135.12 1936.4M1135.12 1936.4L1160.2 2071.9M1160.2 2071.9L1185.28 2063M1185.28 2063L1210.36 1892.7M1210.36 1892.7L1235.44 2172.5M1235.44 2172.5L1260.52 2066.3M1260.52 2066.3L1285.6 2195.9M1285.6 2195.9L1310.68 1965.9M1310.68 1965.9L1335.76 2095.5" stroke="#1a1a1a" stroke-width="1.8" stroke-dasharray="2.2 3.1" fill="none"/>
<polyline points="232.24,2057 257.32,2184.9 282.4,1909.2 307.48,2057 332.56,2001 357.64,2107.2 382.72,2042.6 407.8,2119.6 432.88,2045.8 457.96,1865.2 483.04,1909.2 508.12,2065.9 533.2,2089.5 558.28,2065.9 583.36,1995.6 608.44,2045.7 633.52,2140.7 658.6,2015.5 683.68,2054.5 708.76,2010.2 733.84,1829.8 758.92,2030.6 784,2051.8 809.08,1903.9 834.16,2051.5 859.24,2131.2 884.32,2069.5 909.4,2146.3 934.48,1849 959.56,2045.6 984.64,1874.1 1009.72,2063.3 1034.8,1974.5 1059.88,2072.2 1084.96,2015.8 1110.04,2102.3 1135.12,1906.9 1160.2,2169.9 1185.28,2004.3 1210.36,1897.4 1235.44,2128.6 1260.52,2004.3 1285.6,2169 1310.68,1877 1335.76,2063.3" stroke="#2a2a2a" stroke-width="1.35" fill="none"/>
<g><ellipse cx="232.24" cy="2057" rx="6.42" ry="5.99" fill="#000"/><ellipse cx="257.32" cy="2184.9" rx="6.42" ry="5.99" fill="#000"/><ellipse cx="282.4" cy="1909.2" rx="6.42" ry="5.99" fill="#000"/><ellipse cx="307.48" cy="2057" rx="6.42" ry="5.99" fill="#000"/><ellipse cx="332.56" cy="2001" rx="6.42" ry="5.99" fill="#000"/><ellipse cx="357.64" cy="2107.2" rx="6.42" ry="5.99" fill="#000"/><ellipse cx="382.72" cy="2042.6" rx="6.42" ry="5.99" fill="#000"/><ellipse cx="407.8" cy="2119.6" rx="6.42" ry="5.99" fill="#000"/><ellipse cx="432.88" cy="2045.8" rx="6.42" ry="5.99" fill="#000"/><ellipse cx="457.96" cy="1865.2" rx="6.42" ry="5.99" fill="#000"/><ellipse cx="483.04" cy="1909.2" rx="6.42" ry="5.99" fill="#000"/><ellipse cx="508.12" cy="2065.9" rx="6.42" ry="5.99" fill="#000"/><ellipse cx="533.2" cy="2089.5" rx="6.42" ry="5.99" fill="#000"/><ellipse cx="558.28" cy="2065.9" rx="6.42" ry="5.99" fill="#000"/><ellipse cx="583.36" cy="1995.6" rx="6.42" ry="5.99" fill="#000"/><ellipse cx="608.44" cy="2045.7" rx="6.42" ry="5.99" fill="#000"/><ellipse cx="633.52" cy="2140.7" rx="6.42" ry="5.99" fill="#000"/><ellipse cx="658.6" cy="2015.5" rx="6.42" ry="5.99" fill="#000"/><ellipse cx="683.68" cy="2054.5" rx="6.42" ry="5.99" fill="#000"/><ellipse cx="708.76" cy="2010.2" rx="6.42" ry="5.99" fill="#000"/><ellipse cx="733.84" cy="1829.8" rx="6.42" ry="5.99" fill="#000"/><ellipse cx="758.92" cy="2030.6" rx="6.42" ry="5.99" fill="#000"/><ellipse cx="784" cy="2051.8" rx="6.42" ry="5.99" fill="#000"/><ellipse cx="809.08" cy="1903.9" rx="6.42" ry="5.99" fill="#000"/><ellipse cx="834.16" cy="2051.5" rx="6.42" ry="5.99" fill="#000"/><ellipse cx="859.24" cy="2131.2" rx="6.42" ry="5.99" fill="#000"/><ellipse cx="884.32" cy="2069.5" rx="6.42" ry="5.99" fill="#000"/><ellipse cx="909.4" cy="2146.3" rx="6.42" ry="5.99" fill="#000"/><ellipse cx="934.48" cy="1849" rx="6.42" ry="5.99" fill="#000"/><ellipse cx="959.56" cy="2045.6" rx="6.42" ry="5.99" fill="#000"/><ellipse cx="984.64" cy="1874.1" rx="6.42" ry="5.99" fill="#000"/><ellipse cx="1009.72" cy="2063.3" rx="6.42" ry="5.99" fill="#000"/><ellipse cx="1034.8" cy="1974.5" rx="6.42" ry="5.99" fill="#000"/><ellipse cx="1059.88" cy="2072.2" rx="6.42" ry="5.99" fill="#000"/><ellipse cx="1084.96" cy="2015.8" rx="6.42" ry="5.99" fill="#000"/><ellipse cx="1110.04" cy="2102.3" rx="6.42" ry="5.99" fill="#000"/><ellipse cx="1135.12" cy="1906.9" rx="6.42" ry="5.99" fill="#000"/><ellipse cx="1160.2" cy="2169.9" rx="6.42" ry="5.99" fill="#000"/><ellipse cx="1185.28" cy="2004.3" rx="6.42" ry="5.99" fill="#000"/><ellipse cx="1210.36" cy="1897.4" rx="6.42" ry="5.99" fill="#000"/><ellipse cx="1235.44" cy="2128.6" rx="6.42" ry="5.99" fill="#000"/><ellipse cx="1260.52" cy="2004.3" rx="6.42" ry="5.99" fill="#000"/><ellipse cx="1285.6" cy="2169" rx="6.42" ry="5.99" fill="#000"/><ellipse cx="1310.68" cy="1877" rx="6.42" ry="5.99" fill="#000"/><ellipse cx="1335.76" cy="2063.3" rx="6.42" ry="5.99" fill="#000"/></g>
<g><path d="M232.24 2026.95L237.22 2036.38L227.26 2036.38Z" fill="#fff" stroke="#000" stroke-width="3.02"/><path d="M257.32 2056.75L262.3 2066.18L252.34 2066.18Z" fill="#fff" stroke="#000" stroke-width="3.02"/><path d="M282.4 1887.55L287.38 1896.98L277.42 1896.98Z" fill="#fff" stroke="#000" stroke-width="3.02"/><path d="M307.48 2065.85L312.46 2075.28L302.5 2075.28Z" fill="#fff" stroke="#000" stroke-width="3.02"/><path d="M332.56 1881.65L337.54 1891.08L327.58 1891.08Z" fill="#fff" stroke="#000" stroke-width="3.02"/><path d="M357.64 2080.05L362.62 2089.48L352.66 2089.48Z" fill="#fff" stroke="#000" stroke-width="3.02"/><path d="M382.72 2067.95L387.7 2077.38L377.74 2077.38Z" fill="#fff" stroke="#000" stroke-width="3.02"/><path d="M407.8 2100.75L412.78 2110.18L402.82 2110.18Z" fill="#fff" stroke="#000" stroke-width="3.02"/><path d="M432.88 1976.45L437.86 1985.88L427.9 1985.88Z" fill="#fff" stroke="#000" stroke-width="3.02"/><path d="M457.96 1908.55L462.94 1917.98L452.98 1917.98Z" fill="#fff" stroke="#000" stroke-width="3.02"/><path d="M483.04 2032.85L488.02 2042.28L478.06 2042.28Z" fill="#fff" stroke="#000" stroke-width="3.02"/><path d="M508.12 2038.75L513.1 2048.18L503.14 2048.18Z" fill="#fff" stroke="#000" stroke-width="3.02"/><path d="M533.2 2142.35L538.18 2151.78L528.22 2151.78Z" fill="#fff" stroke="#000" stroke-width="3.02"/><path d="M558.28 2018.05L563.26 2027.48L553.3 2027.48Z" fill="#fff" stroke="#000" stroke-width="3.02"/><path d="M583.36 2026.65L588.34 2036.08L578.38 2036.08Z" fill="#fff" stroke="#000" stroke-width="3.02"/><path d="M608.44 1923.75L613.42 1933.18L603.46 1933.18Z" fill="#fff" stroke="#000" stroke-width="3.02"/><path d="M633.52 2083.35L638.5 2092.78L628.54 2092.78Z" fill="#fff" stroke="#000" stroke-width="3.02"/><path d="M658.6 1831.55L663.58 1840.98L653.62 1840.98Z" fill="#fff" stroke="#000" stroke-width="3.02"/><path d="M683.68 2059.15L688.66 2068.58L678.7 2068.58Z" fill="#fff" stroke="#000" stroke-width="3.02"/><path d="M708.76 2142.45L713.74 2151.88L703.78 2151.88Z" fill="#fff" stroke="#000" stroke-width="3.02"/><path d="M733.84 2089.55L738.82 2098.98L728.86 2098.98Z" fill="#fff" stroke="#000" stroke-width="3.02"/><path d="M758.92 2006.35L763.9 2015.78L753.94 2015.78Z" fill="#fff" stroke="#000" stroke-width="3.02"/><path d="M784 1926.05L788.98 1935.48L779.02 1935.48Z" fill="#fff" stroke="#000" stroke-width="3.02"/><path d="M809.08 1740.05L814.06 1749.48L804.1 1749.48Z" fill="#fff" stroke="#000" stroke-width="3.02"/><path d="M834.16 2130.85L839.14 2140.28L829.18 2140.28Z" fill="#fff" stroke="#000" stroke-width="3.02"/><path d="M859.24 2150.95L864.22 2160.38L854.26 2160.38Z" fill="#fff" stroke="#000" stroke-width="3.02"/><path d="M884.32 2077.15L889.3 2086.58L879.34 2086.58Z" fill="#fff" stroke="#000" stroke-width="3.02"/><path d="M909.4 2029.95L914.38 2039.38L904.42 2039.38Z" fill="#fff" stroke="#000" stroke-width="3.02"/><path d="M934.48 1847.25L939.46 1856.68L929.5 1856.68Z" fill="#fff" stroke="#000" stroke-width="3.02"/><path d="M959.56 1902.45L964.54 1911.88L954.58 1911.88Z" fill="#fff" stroke="#000" stroke-width="3.02"/><path d="M984.64 1728.55L989.62 1737.98L979.66 1737.98Z" fill="#fff" stroke="#000" stroke-width="3.02"/><path d="M1009.72 2098.15L1014.7 2107.58L1004.74 2107.58Z" fill="#fff" stroke="#000" stroke-width="3.02"/><path d="M1034.8 2033.15L1039.78 2042.58L1029.82 2042.58Z" fill="#fff" stroke="#000" stroke-width="3.02"/><path d="M1059.88 2000.15L1064.86 2009.58L1054.9 2009.58Z" fill="#fff" stroke="#000" stroke-width="3.02"/><path d="M1084.96 2124.95L1089.94 2134.38L1079.98 2134.38Z" fill="#fff" stroke="#000" stroke-width="3.02"/><path d="M1110.04 1926.65L1115.02 1936.08L1105.06 1936.08Z" fill="#fff" stroke="#000" stroke-width="3.02"/><path d="M1135.12 2018.45L1140.1 2027.88L1130.14 2027.88Z" fill="#fff" stroke="#000" stroke-width="3.02"/><path d="M1160.2 2089.55L1165.18 2098.98L1155.22 2098.98Z" fill="#fff" stroke="#000" stroke-width="3.02"/><path d="M1185.28 1863.75L1190.26 1873.18L1180.3 1873.18Z" fill="#fff" stroke="#000" stroke-width="3.02"/><path d="M1210.36 1887.35L1215.34 1896.78L1205.38 1896.78Z" fill="#fff" stroke="#000" stroke-width="3.02"/><path d="M1235.44 2183.75L1240.42 2193.18L1230.46 2193.18Z" fill="#fff" stroke="#000" stroke-width="3.02"/><path d="M1260.52 2042.05L1265.5 2051.48L1255.54 2051.48Z" fill="#fff" stroke="#000" stroke-width="3.02"/><path d="M1285.6 2163.95L1290.58 2173.38L1280.62 2173.38Z" fill="#fff" stroke="#000" stroke-width="3.02"/><path d="M1310.68 2062.75L1315.66 2072.18L1305.7 2072.18Z" fill="#fff" stroke="#000" stroke-width="3.02"/><path d="M1335.76 2096.05L1340.74 2105.48L1330.78 2105.48Z" fill="#fff" stroke="#000" stroke-width="3.02"/></g>
<path d="M1221.8 1608.4H1246.4" stroke="#2a2a2a" stroke-width="1.35" fill="none"/>
<ellipse cx="1234.1" cy="1608.4" rx="6.42" ry="5.99" fill="#000"/>
<rect x="1228.11" y="1635.49" width="11.98" height="10.82" fill="#a1a1a1" stroke="#8a8a8a" stroke-width="1"/>
<path d="M1221.8 1640.9H1246.4" stroke="#1a1a1a" stroke-width="1.8" stroke-dasharray="2.2 3.1" fill="none"/>
<path d="M1221.8 1675.4H1246.4" stroke="#707070" stroke-width="1.05" stroke-dasharray="1.4 2.4" fill="none"/>
<path d="M1234.1 1671.45L1239.08 1680.88L1229.12 1680.88Z" fill="#fff" stroke="#000" stroke-width="3.02"/>
<text transform="translate(1260 1617.4) scale(1.0 1)" font-size="28" font-family="Liberation Serif, serif">LDW</text>
<text transform="translate(1260 1650) scale(1.0 1)" font-size="28" font-family="Liberation Serif, serif">CDF</text>
<text transform="translate(1260 1684.4) scale(1.0 1)" font-size="28" font-family="Liberation Serif, serif">MDF</text>
</svg>
</body></html>
